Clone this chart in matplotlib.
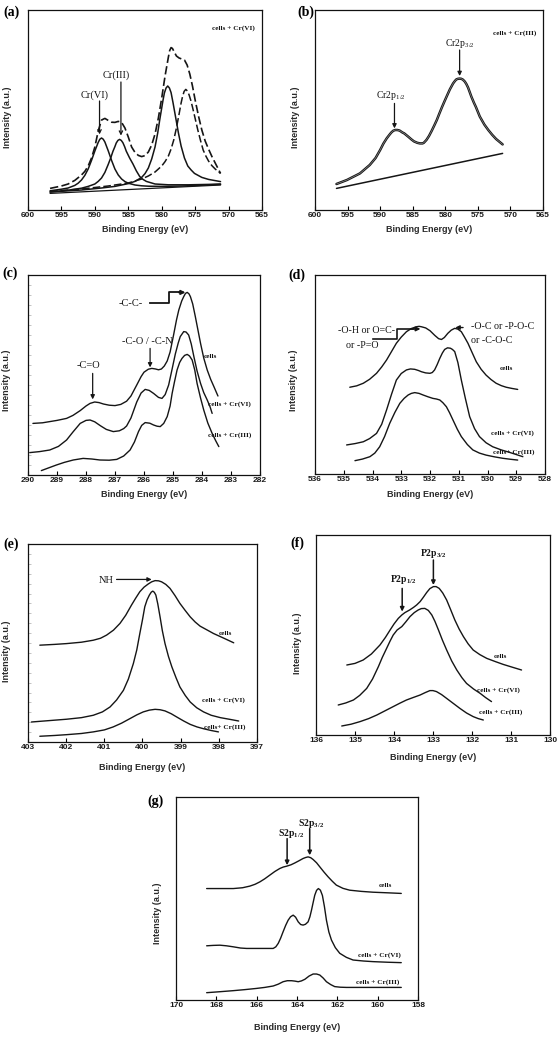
import matplotlib
matplotlib.use('Agg')
import matplotlib.pyplot as plt

plt.rcParams['font.family'] = ['Liberation Sans', 'DejaVu Sans']
plt.rcParams['mathtext.fontset'] = 'custom'
plt.rcParams['mathtext.rm'] = 'Liberation Serif'
plt.rcParams['mathtext.bf'] = 'Liberation Serif:bold'
plt.rcParams['mathtext.it'] = 'Liberation Serif:italic'

# ---------------- data ----------------
# (a) Cr 2p, cells + Cr(VI)
a_xticks = [600, 595, 590, 585, 580, 575, 570, 565]
a_base_x = [596.7, 571.2]
a_base_y = [8.3, 12.5]
a_c1_x = [596.7, 595, 594, 593, 592.5, 592, 591.5, 591, 590.5, 590, 589.5, 589.25, 589, 588.75, 588.5, 588, 587.5, 587,
          586.5, 586, 585.5, 585, 584, 583, 582, 580, 577, 574, 571.2]
a_c1_y = [9.6, 10.4, 11.0, 12.3, 13.4, 15.0, 17.3, 20.5, 24.8, 29.5, 33.8, 35.4, 36.0, 35.4, 34.0, 29.6, 24.8, 20.5,
          17.5, 15.5, 14.2, 13.4, 12.5, 12.1, 11.9, 11.8, 12.0, 12.4, 12.8]
a_c2_x = [596.7, 594, 592, 591, 590, 589.5, 589, 588.5, 588, 587.6, 587.3, 587.0, 586.8, 586.55, 586.3, 586.05, 585.8,
          585.55, 585.3, 584.8, 584.3, 583.8, 583.3, 582.8, 582.3, 581, 579, 576, 573, 571.2]
a_c2_y = [9.0, 9.9, 10.9, 11.8, 13.0, 14.3, 16.0, 18.8, 22.8, 26.3, 29.3, 31.7, 33.5, 34.8, 35.3, 34.8, 33.6,
          31.7, 29.4, 26.0, 23.0, 19.6, 16.8, 15.3, 14.3, 13.0, 12.6, 12.6, 12.8, 13.0]
a_c3_x = [596.7, 592, 589, 587, 585, 584, 583, 582.5, 582, 581.5, 581, 580.6, 580.3, 580.0, 579.8, 579.6, 579.35,
          579.1, 578.85, 578.6, 578.3, 577.9, 577.5, 577.1, 576.6, 576.1, 575.6, 575.1, 574, 573, 571.2]
a_c3_y = [9.0, 10.0, 11.0, 11.8, 13.2, 14.3, 16.3, 18.2, 21.0, 25.5, 31.5, 38.5, 45.0, 51.0, 55.0, 58.5, 61.0,
          62.0, 61.0, 58.7, 53.5, 46.0, 38.5, 32.0, 26.0, 22.0, 20.0, 18.3, 16.3, 15.3, 14.2]
a_c4_x = [596.7, 592, 588, 585, 583, 582, 581, 580, 579.5, 579, 578.6, 578.2, 577.8, 577.4, 577.1, 576.9, 576.65,
          576.4, 576.15, 575.9, 575.65, 575.4, 575.0, 574.6, 574.2, 573.8, 573.4, 573, 572.5, 572, 571.2]
a_c4_y = [9.3, 10.5, 12.0, 13.5, 15.5, 17.0, 19.0, 22.0, 24.2, 27.0, 30.5, 35.0, 41.0, 48.0, 53.5, 56.5, 59.3,
          60.3, 59.5, 57.5, 54.8, 51.5, 45.8, 40.0, 34.8, 30.0, 27.0, 24.5, 22.2, 20.5, 18.3]
a_env_x = [596.7, 595, 594, 593, 592, 591.5, 591, 590.5, 590, 589.5, 589, 588.5, 588, 587.5, 587, 586.5, 586, 585.5,
           585, 584.5, 584, 583.5, 583, 582.5, 582, 581.5, 581, 580.5, 580, 579.5, 579, 578.8, 578.6, 578.4, 578.2,
           577.8, 577.4, 577, 576.6, 576.2, 575.8, 575.4, 575, 574.5, 574, 573.5, 573, 572.5, 572, 571.2]
a_env_y = [10.8, 12.0, 13.0, 14.8, 17.5, 19.3, 22.0, 26.0, 31.5, 39.5, 45.0, 45.8, 44.8, 43.9, 43.8, 44.3, 43.8, 41.0,
           36.5, 31.5, 28.8, 27.3, 26.7, 27.2, 29.0, 32.5, 38.0, 46.0, 56.0, 67.0, 76.5, 79.8, 81.2, 80.8, 79.5,
           77.0, 76.0, 75.5, 75.0, 72.5, 68.0, 62.0, 55.0, 47.0, 40.0, 34.5, 30.5, 26.8, 23.5, 18.3]

# (b) Cr 2p, cells + Cr(III)
b_xticks = [600, 595, 590, 585, 580, 575, 570, 565]
b_base_x = [596.7, 571.2]
b_base_y = [10.8, 28.3]
b_x = [596.7, 595.1, 593.1, 591.6, 590.7, 590.0, 589.5, 589.0, 588.6, 588.3, 588.0, 587.7, 587.35, 587.0, 586.6, 586.3,
       585.7, 585.2, 584.8, 584.3, 583.9, 583.5, 583.3, 582.9, 582.5, 582.1, 581.7, 581.3, 580.9, 580.5, 580.1, 579.8,
       579.3, 578.8, 578.5, 578.3, 578.05, 577.8, 577.55, 577.3, 577.0, 576.75, 576.5, 576.0, 575.6, 575.3, 574.7,
       574.0, 573.4, 572.8, 572.2, 571.2]
b_y = [13.0, 15.0, 18.3, 22.5, 26.0, 30.0, 33.2, 35.8, 37.5, 38.7, 39.6, 40.0, 40.0, 39.7, 38.8, 38.3,
       36.7, 35.3, 34.3, 33.6, 33.3, 33.3, 33.6, 35.0, 37.0, 39.5, 42.2, 45.0, 48.3, 51.5, 54.5, 56.7,
       60.3, 63.3, 64.6, 65.3, 65.6, 65.7, 65.6, 65.2, 64.2, 62.9, 61.2, 56.7, 53.6, 51.5, 46.7,
       42.7, 40.0, 37.6, 35.5, 32.8]

# (c) C 1s
c_xticks = [290, 289, 288, 287, 286, 285, 284, 283, 282]
c_cells_x = [289.83, 289.5, 289.25, 289.0, 288.67, 288.45, 288.2, 288.0, 287.86, 287.7, 287.55, 287.4, 287.2, 287.0,
             286.8, 286.6, 286.45, 286.25, 286.1, 286.0, 285.85, 285.73, 285.6, 285.5, 285.4, 285.3, 285.2, 285.1,
             284.98, 284.88, 284.8, 284.7, 284.63, 284.57, 284.51, 284.45, 284.4, 284.32, 284.23, 284.14, 284.05,
             283.94, 283.82, 283.7, 283.59, 283.45]
c_cells_y = [25.8, 26.1, 26.7, 27.3, 28.3, 29.8, 32.2, 34.5, 35.8, 36.5, 36.2, 35.5, 34.9, 34.7,
             35.3, 36.9, 39.5, 45.0, 49.2, 51.4, 52.9, 53.3, 53.0, 52.6, 53.0, 54.5, 57.0, 61.5,
             70.0, 77.5, 82.5, 87.0, 89.2, 90.8, 91.3, 90.6, 89.2, 85.5, 79.2, 72.5, 65.8,
             58.5, 52.5, 47.8, 44.2, 39.5]
c_cr6_x = [289.94, 289.6, 289.25, 288.95, 288.67, 288.45, 288.2, 288.0, 287.86, 287.7, 287.5, 287.3, 287.06, 286.85,
           286.7, 286.6, 286.45, 286.25, 286.1, 285.96, 285.82, 285.67, 285.5, 285.38, 285.27, 285.15, 285.03, 284.92,
           284.82, 284.75, 284.63, 284.55, 284.46, 284.37, 284.28, 284.17, 284.05, 283.94, 283.82, 283.72, 283.65]
c_cr6_y = [11.2, 11.7, 12.5, 14.3, 17.5, 21.5, 25.8, 27.3, 27.5, 26.6, 24.6, 22.8, 21.7, 22.1,
           23.2, 24.5, 28.5, 36.5, 41.0, 42.8, 42.3, 40.8, 38.8, 38.3, 40.2, 45.0, 53.0, 60.5,
           66.0, 69.2, 71.7, 71.5, 70.0, 65.5, 59.2, 52.0, 45.8, 41.2, 37.5, 34.0, 30.8]
c_cr3_x = [289.54, 289.3, 289.02, 288.75, 288.44, 288.1, 287.8, 287.52, 287.2, 286.94, 286.7, 286.48, 286.33, 286.19,
           286.08, 285.96, 285.8, 285.67, 285.55, 285.44, 285.32, 285.2, 285.1, 285.03, 284.95, 284.86, 284.77,
           284.69, 284.6, 284.51, 284.43, 284.34, 284.25, 284.17, 284.05, 283.94, 283.8, 283.65, 283.53, 283.42]
c_cr3_y = [2.2, 3.5, 5.0, 6.3, 7.5, 8.3, 8.0, 7.5, 7.4, 7.8, 9.5, 12.5, 16.5, 21.7,
           24.8, 26.2, 25.9, 25.0, 24.4, 24.2, 25.8, 29.2, 34.5, 40.8, 46.5, 52.5, 56.3,
           58.3, 59.8, 60.3, 59.5, 57.5, 52.5, 45.8, 38.5, 32.5, 26.0, 20.8, 17.2, 14.2]

# (d) O 1s
d_xticks = [536, 535, 534, 533, 532, 531, 530, 529, 528]
d_cells_x = [534.79, 534.55, 534.32, 534.1, 533.86, 533.68, 533.51, 533.34, 533.17, 533.0, 532.82, 532.65, 532.47,
             532.38, 532.3, 532.15, 532.0, 531.83, 531.7, 531.6, 531.5, 531.38, 531.26, 531.14, 531.03, 530.91,
             530.8, 530.68, 530.55, 530.39, 530.22, 530.05, 529.88, 529.7, 529.52, 529.35, 529.15, 528.95]
d_cells_y = [43.6, 44.3, 45.6, 47.6, 50.6, 53.8, 57.3, 61.5, 65.7, 68.8, 71.5, 73.1, 74.0,
             74.2, 74.0, 73.4, 72.0, 69.6, 68.0, 67.6, 68.6, 70.7, 72.3, 73.2, 72.8, 71.5,
             68.8, 65.7, 61.5, 56.4, 52.6, 49.7, 47.5, 45.6, 44.4, 43.6, 43.0, 42.5]
d_cr6_x = [534.9, 534.6, 534.32, 534.1, 533.86, 533.68, 533.51, 533.34, 533.17, 533.0, 532.82, 532.68, 532.53, 532.4,
           532.3, 532.15, 532.0, 531.92, 531.84, 531.75, 531.66, 531.57, 531.49, 531.39, 531.29, 531.22, 531.14,
           531.03, 530.91, 530.77, 530.62, 530.45, 530.28, 530.05, 529.82, 529.52, 529.24, 528.77]
d_cr6_y = [14.6, 15.3, 16.2, 17.8, 20.4, 25.0, 32.2, 40.0, 47.2, 50.5, 52.3, 52.8, 52.6, 52.0,
           51.4, 50.8, 50.6, 51.0, 52.3, 55.0, 58.1, 60.8, 62.6, 63.4, 63.2, 62.6, 61.5,
           56.0, 47.2, 38.0, 28.8, 22.8, 18.8, 15.7, 13.7, 12.1, 10.9, 8.7]
d_cr3_x = [534.61, 534.35, 534.09, 533.92, 533.75, 533.58, 533.4, 533.22, 533.05, 532.9, 532.76, 532.65, 532.53,
           532.38, 532.24, 532.07, 531.9, 531.78, 531.66, 531.55, 531.43, 531.32, 531.2, 531.05, 530.91, 530.7,
           530.51, 530.28, 530.05, 529.75, 529.47, 529.2, 528.95]
d_cr3_y = [6.7, 7.5, 8.7, 10.5, 13.7, 18.8, 25.5, 31.0, 35.5, 38.0, 39.7, 40.5, 40.9,
           40.5, 39.7, 38.8, 38.0, 37.7, 37.2, 35.8, 33.8, 30.8, 27.1, 22.5, 18.8, 14.8,
           12.1, 10.5, 9.5, 8.6, 7.9, 7.4, 7.0]

# (e) N 1s
e_xticks = [403, 402, 401, 400, 399, 398, 397]
e_cells_x = [402.69, 402.3, 401.99, 401.6, 401.29, 401.1, 400.94, 400.76, 400.59, 400.44, 400.29, 400.18, 400.07,
             399.96, 399.85, 399.76, 399.67, 399.58, 399.5, 399.39, 399.28, 399.15, 399.02, 398.88, 398.75, 398.62,
             398.49, 398.3, 398.14, 397.9, 397.61]
e_cells_y = [48.9, 49.3, 49.7, 50.4, 51.4, 52.4, 54.0, 56.5, 59.9, 64.0, 69.1, 72.6, 75.9,
             78.2, 79.8, 80.9, 81.5, 81.4, 80.9, 79.6, 77.6, 74.0, 70.0, 66.4, 63.2, 60.6,
             58.5, 56.5, 54.8, 52.7, 50.1]
e_cr6_x = [402.91, 402.45, 401.99, 401.6, 401.29, 401.05, 400.85, 400.68, 400.5, 400.37, 400.24, 400.15, 400.07,
           400.0, 399.94, 399.88, 399.82, 399.77, 399.73, 399.69, 399.65, 399.6, 399.54, 399.48, 399.41, 399.32,
           399.23, 399.12, 399.02, 398.88, 398.75, 398.58, 398.4, 398.2, 397.96, 397.7, 397.48]
e_cr6_y = [10.1, 10.8, 11.5, 12.3, 13.5, 15.2, 17.7, 21.2, 26.1, 31.8, 39.6, 46.5, 54.8,
           61.8, 68.3, 71.8, 74.2, 75.7, 76.2, 75.6, 74.2, 69.8, 63.2, 56.2, 49.7, 43.2,
           37.9, 32.4, 27.8, 23.5, 20.2, 17.3, 15.2, 13.5, 12.3, 11.4, 10.6]
e_cr3_x = [402.69, 402.3, 401.99, 401.6, 401.29, 401.0, 400.77, 400.55, 400.33, 400.15, 399.98, 399.82, 399.67,
           399.54, 399.41, 399.25, 399.1, 398.92, 398.75, 398.57, 398.4, 398.2, 398.01]
e_cr3_y = [2.9, 3.3, 3.7, 4.3, 5.1, 6.1, 7.6, 9.5, 11.8, 13.7, 15.2, 16.1, 16.5,
           16.3, 15.7, 14.3, 12.6, 10.6, 8.9, 7.6, 6.7, 5.8, 5.1]

# (f) P 2p
f_xticks = [136, 135, 134, 133, 132, 131, 130]
f_cells_x = [135.21, 135.0, 134.79, 134.58, 134.36, 134.22, 134.1, 134.0, 133.89, 133.8, 133.72, 133.6, 133.5,
             133.42, 133.33, 133.25, 133.16, 133.08, 132.99, 132.92, 132.84, 132.75, 132.65, 132.55, 132.44,
             132.33, 132.22, 132.1, 131.97, 131.8, 131.62, 131.4, 131.2, 130.95, 130.73]
f_cells_y = [35.0, 35.8, 37.5, 40.5, 45.0, 48.8, 52.5, 55.5, 58.3, 60.0, 61.2, 62.5, 63.8,
             65.0, 66.7, 68.8, 71.3, 73.2, 74.2, 74.2, 73.3, 71.0, 67.5, 62.8, 57.5,
             53.0, 49.2, 45.6, 42.5, 40.2, 38.3, 36.7, 35.3, 33.8, 32.5]
f_cr6_x = [135.43, 135.24, 135.04, 134.88, 134.7, 134.55, 134.4, 134.3, 134.19, 134.1, 134.02, 133.92, 133.8, 133.7,
           133.59, 133.48, 133.38, 133.3, 133.21, 133.12, 133.03, 132.95, 132.86, 132.76, 132.65, 132.52, 132.39,
           132.26, 132.14, 131.96, 131.79, 131.65, 131.5]
f_cr6_y = [15.0, 16.0, 17.5, 19.8, 23.3, 28.0, 34.2, 38.8, 43.3, 47.0, 50.0, 52.5, 54.2, 56.5,
           59.2, 61.2, 62.5, 63.2, 63.3, 62.3, 60.0, 56.8, 52.5, 47.5, 42.5, 37.0, 32.5,
           28.7, 25.8, 23.0, 20.8, 18.7, 16.7]
f_cr3_x = [135.34, 135.1, 134.87, 134.65, 134.44, 134.22, 134.02, 133.85, 133.68, 133.5, 133.33, 133.2, 133.08,
           133.0, 132.91, 132.78, 132.65, 132.48, 132.31, 132.14, 131.97, 131.84, 131.71]
f_cr3_y = [4.5, 5.4, 6.7, 8.2, 10.0, 12.2, 14.2, 15.9, 17.5, 18.8, 20.0, 21.2, 22.2,
           22.2, 21.7, 20.2, 18.3, 15.8, 13.3, 11.0, 9.2, 8.2, 7.5]

# (g) S 2p
g_xticks = [170, 168, 166, 164, 162, 160, 158]
g_cells_x = [168.48, 167.8, 167.16, 166.7, 166.34, 166.08, 165.84, 165.6, 165.35, 165.1, 164.85, 164.68, 164.52,
             164.3, 164.11, 163.9, 163.7, 163.57, 163.45, 163.32, 163.2, 163.03, 162.87, 162.66, 162.46, 162.25,
             162.05, 161.72, 161.39, 160.8, 160.23, 159.5, 158.83]
g_cells_y = [54.9, 54.9, 54.9, 55.3, 56.1, 57.0, 58.2, 59.7, 61.5, 63.3, 64.8, 65.5, 65.9,
             66.6, 67.5, 68.6, 69.7, 70.2, 70.5, 70.1, 69.2, 67.6, 65.6, 63.0, 60.7, 58.5,
             56.6, 55.0, 54.1, 53.5, 53.1, 52.8, 52.5]
g_cr6_x = [168.48, 168.15, 167.82, 167.5, 167.16, 166.8, 166.5, 165.68, 165.18, 165.05, 164.93, 164.81, 164.69,
           164.56, 164.44, 164.32, 164.19, 164.07, 163.94, 163.82, 163.7, 163.58, 163.45, 163.36, 163.28, 163.2,
           163.12, 163.03, 162.94, 162.84, 162.74, 162.64, 162.54, 162.42, 162.29, 162.1, 161.88, 161.55, 161.22,
           160.7, 160.23, 159.5, 158.83]
g_cr6_y = [26.7, 26.9, 27.0, 26.7, 26.2, 25.6, 25.4, 25.4, 25.4, 26.2, 27.9, 30.5, 33.6,
           36.8, 39.3, 41.0, 41.8, 40.8, 38.5, 37.2, 36.9, 37.3, 38.5, 41.0, 44.3, 48.0,
           51.6, 54.0, 54.9, 54.1, 51.5, 46.0, 39.3, 33.5, 29.5, 25.8, 23.0, 21.0, 19.7,
           19.2, 18.9, 18.6, 18.4]
g_cr3_x = [168.48, 167.8, 167.16, 166.6, 166.01, 165.6, 165.18, 164.93, 164.69, 164.48, 164.27, 164.1, 163.94,
           163.78, 163.61, 163.4, 163.2, 163.03, 162.87, 162.7, 162.54, 162.33, 162.13, 161.85, 161.55, 160.23,
           158.83]
g_cr3_y = [3.6, 4.1, 4.6, 5.1, 5.7, 6.2, 6.9, 7.8, 9.0, 9.5, 9.5, 9.3, 9.0,
           9.4, 10.2, 11.8, 12.8, 12.8, 12.3, 10.8, 9.0, 7.6, 6.6, 6.3, 6.2, 6.2,
           6.2]

# ---------------- layout ----------------
W, H = 559, 1039
fig = plt.figure(figsize=(W / 100, H / 100), dpi=100)

LINE = '#151515'
SERIF = ['Liberation Serif', 'DejaVu Serif']


def make_axes(box, xlim, xticks, minor_y=False):
    l, t, r, b = box
    ax = fig.add_axes([l / W, 1 - b / H, (r - l) / W, (b - t) / H])
    ax.set_xlim(xlim)
    ax.set_ylim(0, 100)
    ax.set_xticks(xticks)
    ax.set_xticklabels([str(v) for v in xticks], fontsize=6, fontweight='bold', color='#1a1a1a')
    ax.tick_params(axis='x', direction='in', length=3, width=0.8, pad=1.5)
    if minor_y:
        ax.set_yticks(list(range(5, 100, 5)))
        ax.tick_params(axis='y', direction='in', length=2, width=0.5, color='#aaaaaa', labelleft=False)
    else:
        ax.set_yticks([])
    for s in ax.spines.values():
        s.set_linewidth(0.9)
        s.set_color('#111111')
    return ax


def deco(letter, lpos, xlab_pos, ylab_pos):
    fig.text(lpos[0] / W, 1 - lpos[1] / H, letter, fontsize=10, fontweight='bold', family=SERIF,
             ha='center', va='center')
    fig.text(xlab_pos[0] / W, 1 - xlab_pos[1] / H, 'Binding Energy (eV)', fontsize=6.5, fontweight='bold',
             color='#2a2a2a', ha='center', va='center')
    fig.text(ylab_pos[0] / W, 1 - ylab_pos[1] / H, 'Intensity (a.u.)', fontsize=6.5, fontweight='bold',
             color='#2a2a2a', ha='center', va='center', rotation=90)


def curve(ax, x, y, **kw):
    opts = dict(color=LINE, lw=1.0, solid_capstyle='round', solid_joinstyle='round')
    opts.update(kw)
    ax.plot(x, y, **opts)


def arrow(ax, tail, head, filled=True, lw=0.9):
    style = '-|>' if filled else '->'
    ax.annotate('', xy=head, xytext=tail,
                arrowprops=dict(arrowstyle=style, color=LINE, lw=lw, mutation_scale=6,
                                shrinkA=0, shrinkB=0))


def txt(ax, x, y, s, size=7.5, weight='normal', ha='center'):
    ax.text(x, y, s, fontsize=size, fontweight=weight, family=SERIF, ha=ha, va='center', color=LINE)


def small(ax, x, y, s, ha='left'):
    ax.text(x, y, s, fontsize=5.2, fontweight='bold', family=SERIF, ha=ha, va='center', color=LINE)


# (a)
ax = make_axes((28, 10, 262, 210), (600, 565), a_xticks)
curve(ax, a_base_x, a_base_y, lw=0.9)
curve(ax, a_c1_x, a_c1_y, lw=1.1)
curve(ax, a_c2_x, a_c2_y, lw=1.1)
curve(ax, a_c3_x, a_c3_y, lw=1.1)
curve(ax, a_c4_x, a_c4_y, lw=1.1, ls=(0, (5, 2)))
curve(ax, a_env_x, a_env_y, lw=1.2, ls=(0, (5, 2)))
txt(ax, 590.0, 57.5, 'Cr(VI)')
arrow(ax, (589.3, 54.5), (589.3, 37.8), filled=False)
txt(ax, 586.8, 67.5, 'Cr(III)')
arrow(ax, (586.1, 64.0), (586.1, 37.2), filled=False)
small(ax, 566.1, 90.8, 'cells + Cr(VI)', ha='right')
deco('(a)', (12, 12), (145, 230), (8, 117))

# (b)
ax = make_axes((315, 10, 543, 210), (600, 565), b_xticks)
curve(ax, b_base_x, b_base_y, lw=1.1)
curve(ax, b_x, b_y, lw=1.8)
curve(ax, b_x, b_y, lw=0.5, color='#8a8a8a')
txt(ax, 588.4, 57.5, r'Cr2p$_{\mathrm{1/2}}$', size=7)
arrow(ax, (587.8, 53.3), (587.8, 40.8))
txt(ax, 577.7, 83.3, r'Cr2p$_{\mathrm{3/2}}$', size=7)
arrow(ax, (577.8, 80.0), (577.8, 67.0))
small(ax, 566.0, 88.3, 'cells + Cr(III)', ha='right')
deco('(b)', (306, 12), (429, 230), (295, 117))

# (c)
ax = make_axes((28, 275, 260, 475), (290, 282), c_xticks, minor_y=True)
curve(ax, c_cells_x, c_cells_y)
curve(ax, c_cr6_x, c_cr6_y)
curve(ax, c_cr3_x, c_cr3_y)
txt(ax, 287.9, 54.5, '-C=O')
arrow(ax, (287.77, 50.8), (287.77, 37.8))
txt(ax, 285.9, 66.7, '-C-O / -C-N')
arrow(ax, (285.79, 63.3), (285.79, 53.8))
txt(ax, 286.45, 85.8, '-C-C-')
ax.plot([285.79, 285.15, 285.15, 284.75], [85.8, 85.8, 91.3, 91.3], color=LINE, lw=1.3)
arrow(ax, (284.8, 91.3), (284.57, 91.3), lw=1.3)
small(ax, 283.94, 59.2, 'cells')
small(ax, 283.78, 35.3, 'cells + Cr(VI)')
small(ax, 283.78, 19.7, 'cells + Cr(III)')
deco('(c)', (10, 273), (144, 495), (7, 380))

# (d)
ax = make_axes((315, 275, 545, 474), (536, 528), d_xticks)
curve(ax, d_cells_x, d_cells_y)
curve(ax, d_cr6_x, d_cr6_y)
curve(ax, d_cr3_x, d_cr3_y)
txt(ax, 534.2, 72.0, '-O-H or O=C-', size=7.2)
txt(ax, 534.35, 64.8, 'or -P=O', size=7.2)
ax.plot([533.97, 533.14, 533.14, 532.6], [67.8, 67.8, 72.9, 72.9], color=LINE, lw=1.2)
arrow(ax, (532.65, 72.9), (532.33, 72.9), lw=1.2)
txt(ax, 529.47, 74.0, '-O-C or -P-O-C', size=7.2)
txt(ax, 529.85, 67.3, 'or -C-O-C', size=7.2)
arrow(ax, (530.85, 73.6), (531.12, 73.6), lw=1.0)
small(ax, 529.58, 53.1, 'cells')
small(ax, 529.87, 20.4, 'cells + Cr(VI)')
small(ax, 529.82, 11.2, 'cells+ Cr(III)')
deco('(d)', (297, 275), (430, 495), (293, 380))

# (e)
ax = make_axes((28, 544, 257, 742), (403, 397), e_xticks, minor_y=True)
curve(ax, e_cells_x, e_cells_y)
curve(ax, e_cr6_x, e_cr6_y)
curve(ax, e_cr3_x, e_cr3_y)
txt(ax, 400.94, 81.8, 'NH')
arrow(ax, (400.68, 82.1), (399.76, 82.1))
small(ax, 398.01, 54.8, 'cells')
small(ax, 398.45, 21.1, 'cells + Cr(VI)')
small(ax, 398.40, 7.6, 'cells+ Cr(III)')
deco('(e)', (11, 544), (142, 768), (7, 651))

# (f)
ax = make_axes((316, 535, 550, 735), (136, 130), f_xticks)
curve(ax, f_cells_x, f_cells_y)
curve(ax, f_cr6_x, f_cr6_y)
curve(ax, f_cr3_x, f_cr3_y)
txt(ax, 133.76, 77.5, r'P2p$_{\mathbf{1/2}}$', size=7, weight='bold')
arrow(ax, (133.79, 73.3), (133.79, 61.7), lw=1.1)
txt(ax, 132.99, 90.8, r'P2p$_{\mathbf{3/2}}$', size=7, weight='bold')
arrow(ax, (132.99, 87.5), (132.99, 75.0), lw=1.1)
small(ax, 131.45, 39.2, 'cells')
small(ax, 131.88, 22.5, 'cells + Cr(VI)')
small(ax, 131.81, 11.2, 'cells + Cr(III)')
deco('(f)', (297, 543), (433, 757), (297, 643))

# (g)
ax = make_axes((176, 797, 418, 1000), (170, 158), g_xticks)
curve(ax, g_cells_x, g_cells_y)
curve(ax, g_cr6_x, g_cr6_y)
curve(ax, g_cr3_x, g_cr3_y)
txt(ax, 164.27, 82.0, r'S2p$_{\mathbf{1/2}}$', size=7, weight='bold')
arrow(ax, (164.49, 79.5), (164.49, 66.4), lw=1.1)
txt(ax, 163.28, 86.9, r'S2p$_{\mathbf{3/2}}$', size=7, weight='bold')
arrow(ax, (163.37, 84.4), (163.37, 71.3), lw=1.1)
small(ax, 159.93, 56.6, 'cells')
small(ax, 160.97, 22.1, 'cells + Cr(VI)')
small(ax, 161.09, 9.0, 'cells + Cr(III)')
deco('(g)', (156, 801), (297, 1028), (157, 913))

fig.savefig('out.png', dpi=100)
